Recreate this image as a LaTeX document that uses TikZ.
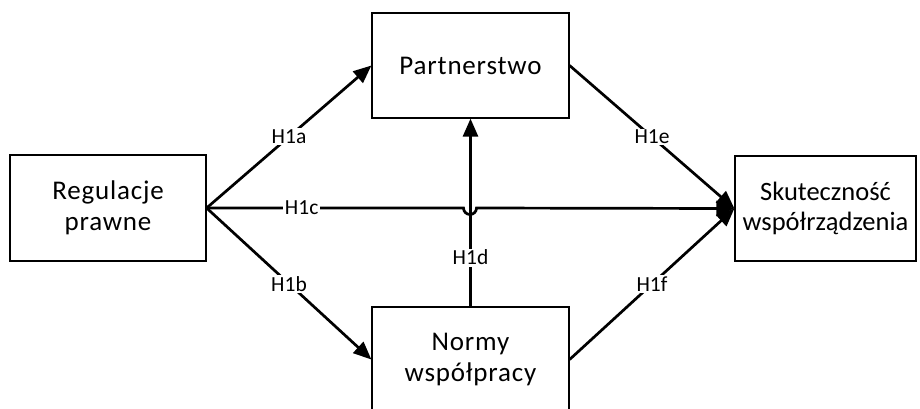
\documentclass[tikz,border=0pt]{standalone}
\usepackage{fontspec}
\setmainfont{Carlito}
\usetikzlibrary{arrows.meta}
\begin{document}
\begin{tikzpicture}[x=1pt,y=-1pt,
  box/.style={draw, line width=1.2pt, align=center, inner sep=0pt,
    font=\fontsize{27}{31}\selectfont\addfontfeatures{LetterSpace=3}},
  tightbox/.style={box, font=\fontsize{26.5}{30}\selectfont},
  conn/.style={line width=2.7pt, -{Triangle[length=18pt,width=15pt]}},
  lab/.style={fill=white, inner sep=1.5pt, font=\fontsize{21.5}{23}\selectfont}]
\clip (0,0) rectangle (920,408);
\node[box, minimum width=196pt, minimum height=106pt] (reg) at (108,208) {Regulacje\\prawne};
\node[box, minimum width=197pt, minimum height=105pt] (par) at (470.5,65.5) {Partnerstwo};
\node[box, minimum width=197pt, minimum height=105pt] (nor) at (470.5,359.5) {Normy\\współpracy};
\node[tightbox, minimum width=181pt, minimum height=105pt] (sku) at (825.5,208.5) {Skuteczność\\współrządzenia};
\coordinate (hop) at (463.5,208);
\draw[conn] (reg.east) -- (par.west) node[lab, pos=0.5] {H1a};
\draw[conn] (reg.east) -- (nor.west) node[lab, pos=0.5] {H1b};
\draw[conn] (nor.north) -- (par.south) node[lab, pos=0.26] {H1d};
\draw[conn] (reg.east) -- (hop) node[lab, pos=0.37] {H1c} arc (180:0:6.5) -- (sku.west);
\draw[conn] (par.east) -- (sku.west) node[lab, pos=0.5] {H1e};
\draw[conn] (nor.east) -- (sku.west) node[lab, pos=0.5] {H1f};
\end{tikzpicture}
\end{document}
